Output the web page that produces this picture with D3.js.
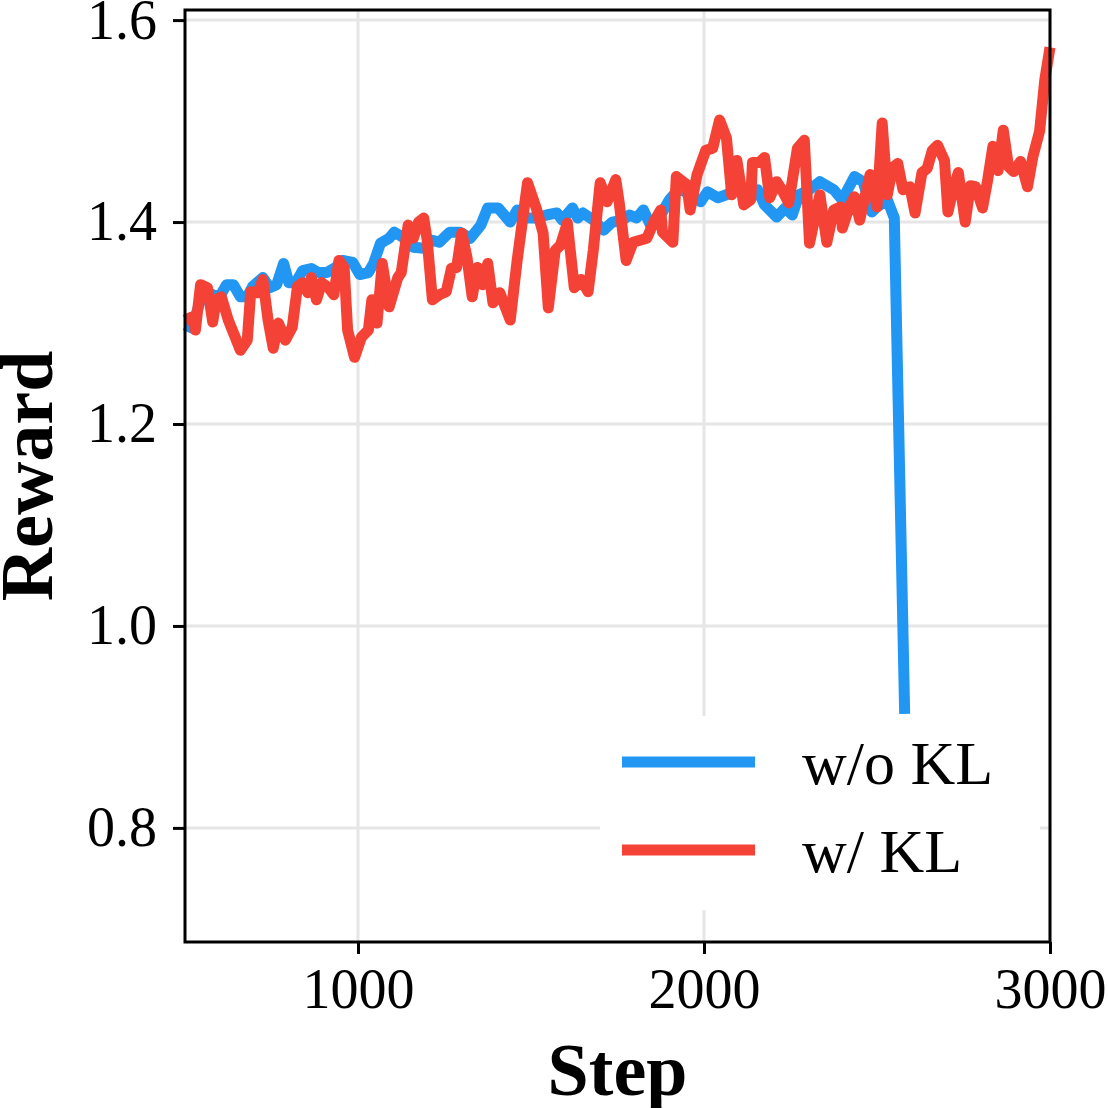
<!DOCTYPE html>
<html>
<head>
<meta charset="utf-8">
<script src="https://cdn.jsdelivr.net/npm/d3@7"></script>
<style>
    body { margin: 0; background: #fff; }
    svg text { font-family: "Liberation Serif", "Times New Roman", serif; fill: #000; }
</style>
</head>
<body>
<div id="chart"><svg></svg></div>
<script>
// Reward curves
var stepsNoKL = [500, 520, 545, 565, 580, 600, 620, 640, 660, 680, 695, 725, 745, 765, 785, 800, 820, 840, 865, 885,
    910, 935, 955, 985, 1005, 1030, 1045, 1065, 1090, 1105, 1130, 1160, 1190, 1215, 1235, 1265, 1295, 1325, 1355, 1375,
    1405, 1440, 1460, 1490, 1515, 1545, 1575, 1590, 1620, 1635, 1650, 1680, 1710, 1735, 1765, 1785, 1805, 1825, 1845, 1875,
    1900, 1930, 1970, 1990, 2010, 2040, 2065, 2095, 2125, 2155, 2175, 2210, 2235, 2255, 2275, 2305, 2335, 2375, 2400, 2415,
    2435, 2460, 2485, 2500, 2530, 2550, 2580];
var rewardNoKL = [1.298, 1.295, 1.323, 1.330, 1.328, 1.326, 1.338, 1.338, 1.326, 1.326, 1.336, 1.345, 1.335, 1.338, 1.359, 1.340, 1.340, 1.352, 1.354, 1.350,
    1.350, 1.355, 1.362, 1.360, 1.348, 1.350, 1.359, 1.379, 1.384, 1.390, 1.385, 1.375, 1.374, 1.382, 1.380, 1.390, 1.390, 1.384, 1.397, 1.414,
    1.414, 1.400, 1.412, 1.404, 1.404, 1.407, 1.409, 1.402, 1.414, 1.404, 1.409, 1.402, 1.392, 1.400, 1.402, 1.407, 1.404, 1.412, 1.397, 1.407,
    1.422, 1.434, 1.424, 1.420, 1.430, 1.424, 1.427, 1.434, 1.429, 1.432, 1.417, 1.405, 1.414, 1.407, 1.427, 1.432, 1.440, 1.432, 1.422, 1.432,
    1.445, 1.440, 1.410, 1.415, 1.422, 1.404, 0.913];

var stepsKL = [500, 520, 530, 545, 565, 580, 590, 605, 625, 645, 660, 680, 690, 710, 725, 740, 755, 770, 790, 810,
    825, 840, 855, 865, 880, 895, 915, 930, 945, 960, 970, 990, 1010, 1030, 1040, 1055, 1070, 1090, 1115, 1125,
    1145, 1160, 1175, 1190, 1200, 1215, 1235, 1255, 1270, 1285, 1300, 1315, 1330, 1345, 1360, 1375, 1390, 1410, 1440, 1460,
    1490, 1515, 1535, 1550, 1570, 1585, 1605, 1625, 1645, 1665, 1680, 1700, 1720, 1745, 1755, 1775, 1795, 1835, 1855, 1875,
    1880, 1910, 1920, 1950, 1960, 1980, 2005, 2025, 2045, 2065, 2080, 2095, 2115, 2135, 2140, 2160, 2175, 2190, 2210, 2225,
    2245, 2270, 2290, 2305, 2325, 2335, 2355, 2375, 2395, 2400, 2420, 2435, 2450, 2480, 2500, 2515, 2530, 2545, 2560, 2575,
    2595, 2610, 2630, 2645, 2660, 2675, 2695, 2705, 2720, 2735, 2755, 2770, 2785, 2805, 2820, 2835, 2850, 2865, 2880, 2895,
    2915, 2935, 2950, 2970, 2985, 3000];
var rewardKL = [1.303, 1.306, 1.293, 1.338, 1.335, 1.301, 1.323, 1.326, 1.303, 1.286, 1.273, 1.283, 1.331, 1.330, 1.343, 1.303, 1.275, 1.300, 1.283, 1.296,
    1.336, 1.340, 1.330, 1.345, 1.323, 1.340, 1.335, 1.328, 1.362, 1.355, 1.293, 1.266, 1.286, 1.293, 1.323, 1.300, 1.359, 1.316, 1.345, 1.350,
    1.397, 1.384, 1.400, 1.404, 1.382, 1.323, 1.328, 1.331, 1.354, 1.355, 1.389, 1.365, 1.326, 1.355, 1.338, 1.359, 1.320, 1.330, 1.303, 1.362,
    1.439, 1.414, 1.389, 1.315, 1.372, 1.377, 1.399, 1.335, 1.343, 1.331, 1.372, 1.439, 1.420, 1.442, 1.419, 1.362, 1.380, 1.384, 1.400, 1.412,
    1.390, 1.380, 1.445, 1.437, 1.412, 1.447, 1.471, 1.473, 1.501, 1.483, 1.427, 1.461, 1.417, 1.422, 1.459, 1.459, 1.464, 1.424, 1.440, 1.432,
    1.419, 1.473, 1.481, 1.379, 1.412, 1.427, 1.380, 1.412, 1.415, 1.394, 1.415, 1.425, 1.402, 1.447, 1.415, 1.498, 1.427, 1.454, 1.458, 1.432,
    1.435, 1.409, 1.449, 1.453, 1.471, 1.476, 1.461, 1.410, 1.432, 1.449, 1.400, 1.436, 1.435, 1.414, 1.442, 1.475, 1.451, 1.491, 1.455, 1.450,
    1.460, 1.435, 1.464, 1.490, 1.541, 1.573];

var xTicks = [1000, 2000, 3000];
var yTicks = [0.8, 1.0, 1.2, 1.4, 1.6];
var seriesNames = ['w/o KL', 'w/ KL'];
var seriesColors = ['#2196F3', '#F44336'];

var width = 1108,
    height = 1108,
    margin = { top: 10, right: 58, bottom: 166, left: 185 },
    innerW = width - margin.left - margin.right,
    innerH = height - margin.top - margin.bottom;

var svg = d3.select('#chart').select('svg')
    .attr('width', width)
    .attr('height', height);

var g = svg.append('g')
    .attr('transform', 'translate(' + margin.left + ',' + margin.top + ')');

var x = d3.scaleLinear().domain([500, 3000]).range([0, innerW]);
var y = d3.scaleLinear().domain([0.687, 1.61]).range([innerH, 0]);

// grid
g.append('g').selectAll('line')
    .data(yTicks)
    .enter().append('line')
    .attr('x1', 0).attr('x2', innerW)
    .attr('y1', function(d) { return y(d); })
    .attr('y2', function(d) { return y(d); })
    .attr('stroke', '#e6e6e6')
    .attr('stroke-width', 3);

g.append('g').selectAll('line')
    .data(xTicks)
    .enter().append('line')
    .attr('y1', 0).attr('y2', innerH)
    .attr('x1', function(d) { return x(d); })
    .attr('x2', function(d) { return x(d); })
    .attr('stroke', '#e6e6e6')
    .attr('stroke-width', 3);

// lines
var line = d3.line()
    .x(function(d) { return x(d[0]); })
    .y(function(d) { return y(d[1]); });

var series = [d3.zip(stepsNoKL, rewardNoKL), d3.zip(stepsKL, rewardKL)];

g.selectAll('path.series')
    .data(series)
    .enter().append('path')
    .attr('class', 'series')
    .attr('d', line)
    .attr('fill', 'none')
    .attr('stroke', function(d, i) { return seriesColors[i]; })
    .attr('stroke-width', 11)
    .attr('stroke-linejoin', 'round');

// axes
var xAxis = g.append('g')
    .attr('transform', 'translate(0,' + innerH + ')')
    .call(d3.axisBottom(x).tickValues(xTicks).tickSize(12).tickPadding(14).tickFormat(d3.format('d')));

var yAxis = g.append('g')
    .call(d3.axisLeft(y).tickValues(yTicks).tickSize(12).tickPadding(16).tickFormat(d3.format('.1f')));

[xAxis, yAxis].forEach(function(ax) {
    ax.select('.domain').remove();
    ax.selectAll('.tick line').attr('stroke', '#000').attr('stroke-width', 3);
    ax.selectAll('.tick text').style('font-size', '56px');
});

// frame
g.append('rect')
    .attr('width', innerW)
    .attr('height', innerH)
    .attr('fill', 'none')
    .attr('stroke', '#000')
    .attr('stroke-width', 3);

// axis titles
svg.append('text')
    .attr('x', margin.left + innerW / 2)
    .attr('y', 1095)
    .attr('text-anchor', 'middle')
    .style('font-size', '74px')
    .style('font-weight', 'bold')
    .text('Step');

svg.append('text')
    .attr('transform', 'translate(52,' + (margin.top + innerH / 2) + ') rotate(-90)')
    .attr('text-anchor', 'middle')
    .style('font-size', '74px')
    .style('font-weight', 'bold')
    .text('Reward');

// legend
var legend = svg.append('g');

legend.append('rect')
    .attr('x', 600).attr('y', 716)
    .attr('width', 440).attr('height', 194)
    .attr('fill', '#fff');

var entry = legend.selectAll('.legend-entry')
    .data(seriesNames)
    .enter().append('g')
    .attr('class', 'legend-entry')
    .attr('transform', function(d, i) { return 'translate(0,' + (762 + i * 88) + ')'; });

entry.append('line')
    .attr('x1', 622).attr('x2', 755)
    .attr('stroke', function(d, i) { return seriesColors[i]; })
    .attr('stroke-width', 11);

entry.append('text')
    .attr('x', 802)
    .attr('y', 22)
    .style('font-size', '62px')
    .text(function(d) { return d; });
</script>
</body>
</html>
